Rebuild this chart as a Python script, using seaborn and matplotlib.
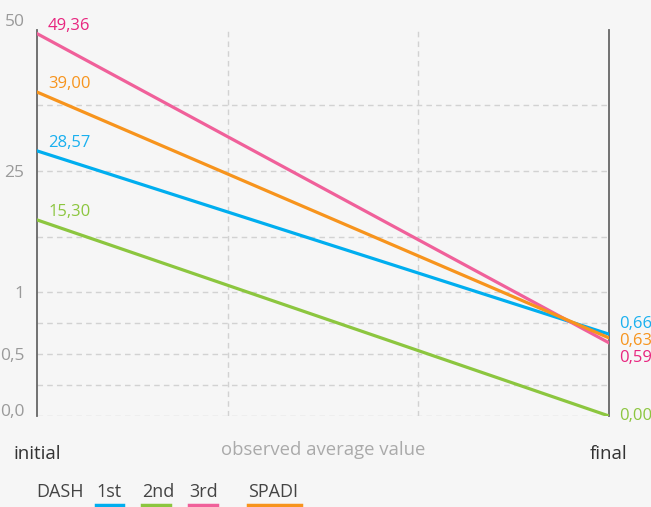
import numpy as np
import pandas as pd
import matplotlib
matplotlib.use("Agg")
import matplotlib.pyplot as plt
from matplotlib.lines import Line2D
import seaborn as sns

# data
series = ["DASH 1st", "DASH 2nd", "DASH 3rd", "SPADI"]
initial_vals = [28.57, 15.30, 49.36, 39.00]
final_vals = [0.66, 0.00, 0.59, 0.63]
stages = ["initial", "final"]
ytick_vals = [0, 0.5, 1, 25, 50]
ytick_labels = ["0,0", "0,5", "1", "25", "50"]

line_colors = {"DASH 1st": "#00aeef", "DASH 2nd": "#8cc63f",
               "DASH 3rd": "#f0609a", "SPADI": "#f7941d"}
text_colors = {"DASH 1st": "#19b0ef", "DASH 2nd": "#8cc63f",
               "DASH 3rd": "#e8257f", "SPADI": "#f7941d"}

# long table for seaborn
rows = []
for s, a, b in zip(series, initial_vals, final_vals):
    rows.append({"series": s, "stage": stages[0], "value": a})
    rows.append({"series": s, "stage": stages[1], "value": b})
df = pd.DataFrame(rows)
stage_pos = {"initial": 0, "final": 3}
df["x"] = df["stage"].map(stage_pos)

# broken (piecewise linear) y scale, knots at the labelled ticks
kv = np.array([0, 1, 25, 50], dtype=float)
ku = np.array([0, 124, 245, 386], dtype=float)


def _pw(v, xs, ys):
    v = np.asarray(v, dtype=float)
    out = np.interp(v, xs, ys)
    lo = ys[0] + (v - xs[0]) * (ys[1] - ys[0]) / (xs[1] - xs[0])
    hi = ys[-1] + (v - xs[-1]) * (ys[-1] - ys[-2]) / (xs[-1] - xs[-2])
    return np.where(v < xs[0], lo, np.where(v > xs[-1], hi, out))


def fwd(v):
    return _pw(v, kv, ku)


def inv(u):
    return _pw(u, ku, kv)


bg = "#f6f6f6"
plt.rcParams["font.family"] = ["Open Sans", "DejaVu Sans"]

W, H = 651, 507
fig = plt.figure(figsize=(W / 100, H / 100), dpi=100, facecolor=bg)
ax = fig.add_axes([37 / W, 1 - 416 / H, (609 - 37) / W, (416 - 30) / H])
ax.set_facecolor(bg)
ax.set_yscale("function", functions=(fwd, inv))
ax.set_ylim(0, 50)
ax.set_xlim(0, 3)

# grid
grid_kw = dict(color="#d2d2d2", lw=1, ls=(0, (4, 3)), zorder=0)
for gy in [0, 0.25, 0.5, 0.75, 1, 12, 25, 36.7]:
    ax.axhline(gy, **grid_kw)
for gx in [1, 2]:
    ax.axvline(gx, **grid_kw)

sns.lineplot(data=df, x="x", y="value", hue="series", palette=line_colors,
             hue_order=series, lw=2.3, legend=False, ax=ax, zorder=3)

for sp in ["top", "bottom"]:
    ax.spines[sp].set_visible(False)
for sp in ["left", "right"]:
    ax.spines[sp].set_color("#666666")
    ax.spines[sp].set_linewidth(1.3)

ax.set_yticks(ytick_vals, ytick_labels)
ax.tick_params(axis="y", length=0, pad=9, labelsize=12.5, labelcolor="#9a9a9a")
for t in ax.get_yticklabels():
    if t.get_text() == "50":
        t.set_va("bottom")
    elif t.get_text() == "0,0":
        t.set_va("baseline")
ax.set_xticks([stage_pos[s] for s in stages], stages)
ax.tick_params(axis="x", length=0, pad=21, labelsize=13.5, labelcolor="#333333")
ax.set_xlabel("observed average value", fontsize=13.3, color="#aaaaaa")
ax.xaxis.set_label_coords(0.5, -0.088)
ax.xaxis.label.set_va("center")
ax.set_ylabel("")

# value labels
right_offsets = {"DASH 1st": 7.5, "DASH 2nd": 0, "DASH 3rd": -11, "SPADI": -2.5}
for s, a, b in zip(series, initial_vals, final_vals):
    ax.annotate(f"{a:.2f}".replace(".", ","), xy=(0, a), xytext=(8, 5.5),
                textcoords="offset points", va="center", ha="left",
                fontsize=12, color=text_colors[s], annotation_clip=False)
    ax.annotate(f"{b:.2f}".replace(".", ","), xy=(3, b),
                xytext=(7.5, right_offsets[s]), textcoords="offset points",
                va="center", ha="left", fontsize=12, color=text_colors[s],
                annotation_clip=False)

# legend with coloured underlines
fig.text(36 / W, 1 - 492 / H, "DASH", fontsize=13, color="#444444", va="center")
legend_items = [("1st", "DASH 1st", 96, 123), ("2nd", "DASH 2nd", 142, 170),
                ("3rd", "DASH 3rd", 189, 217), ("SPADI", "SPADI", 248, 301)]
for label, s, x0, x1 in legend_items:
    fig.text(x0 / W, 1 - 492 / H, label, fontsize=13, color="#444444", va="center")
    fig.add_artist(Line2D([x0 / W, x1 / W], [1 - 505 / H, 1 - 505 / H],
                          color=line_colors[s], lw=2.5,
                          transform=fig.transFigure))

fig.savefig("out.png", dpi=100, facecolor=bg)
